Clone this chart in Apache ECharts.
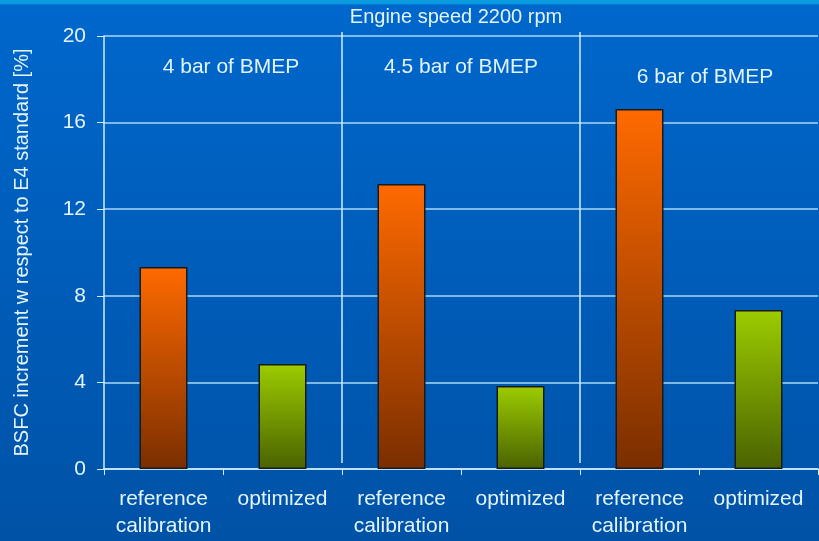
<!DOCTYPE html>
<html>
<head>
<meta charset="utf-8">
<script src="https://cdn.jsdelivr.net/npm/echarts@6/dist/echarts.min.js"></script>
<style>
html, body { margin: 0; padding: 0; }
#chart { width: 819px; height: 541px; }
</style>
</head>
<body>
<div id="chart"></div>
<script>
var categories = ['reference\ncalibration', 'optimized', 'reference\ncalibration', 'optimized', 'reference\ncalibration', 'optimized'];
var bsfcValues = [9.33, 4.85, 13.16, 3.83, 16.63, 7.34];
var groups = ['4 bar of BMEP', '4.5 bar of BMEP', '6 bar of BMEP'];
var yTicks = [0, 4, 8, 12, 16, 20];

var txt = '#e2f4ff';
var font = 'Liberation Sans, Arial, sans-serif';

function barColor(i) {
	// odd = optimized (green), even = reference (orange)
	if (i % 2 == 0) {
		return new echarts.graphic.LinearGradient(0, 0, 0, 1, [
			{ offset: 0, color: '#ff6a00' },
			{ offset: 1, color: '#7a2e00' }
		]);
	}
	return new echarts.graphic.LinearGradient(0, 0, 0, 1, [
		{ offset: 0, color: '#9ccc00' },
		{ offset: 1, color: '#4a6200' }
	]);
}

var barData = [];
for (var i = 0; i < bsfcValues.length; i++) {
	barData.push({
		value: bsfcValues[i],
		itemStyle: { color: barColor(i), borderColor: '#1a1a1a', borderWidth: 1.5 }
	});
}

var chart = echarts.init(document.getElementById('chart'));
chart.setOption({
	backgroundColor: new echarts.graphic.LinearGradient(0, 0, 0, 1, [
		{ offset: 0, color: '#0a9be0' },
		{ offset: 0.007, color: '#0a9be0' },
		{ offset: 0.009, color: '#0067cc' },
		{ offset: 1, color: '#0052a6' }
	]),
	animation: false,
	title: {
		text: 'Engine speed 2200 rpm',
		left: 451,
		textAlign: 'center',
		top: 2,
		textStyle: { color: txt, fontSize: 20, fontWeight: 'normal', fontFamily: font }
	},
	grid: [
		{ left: 104, right: 1, top: 36, bottom: 72 },
		{ left: 104, right: 1, top: 32, bottom: 78 }
	],
	xAxis: [{
		type: 'category',
		data: categories,
		gridIndex: 0,
		axisLine: { lineStyle: { color: '#cfeeff', width: 1.5 } },
		axisTick: { show: true, length: 6, lineStyle: { color: '#cfeeff' } },
		axisLabel: { color: txt, fontSize: 21, fontFamily: font, lineHeight: 27, margin: 17, interval: 0 }
	}, {
		type: 'category',
		data: groups,
		gridIndex: 1,
		position: 'top',
		axisLine: { show: false },
		axisTick: { show: false },
		axisLabel: {
			inside: true,
			margin: 25,
			color: txt,
			fontSize: 21,
			fontFamily: font,
			formatter: function(v, idx) {
				if (idx == 0) return '{a|' + v + '}';
				if (idx == 2) return '{c|' + v + '}';
				return v;
			},
			rich: {
				a: { color: txt, fontSize: 21, fontFamily: font, padding: [0, 0, 0, 16] },
				c: { color: txt, fontSize: 21, fontFamily: font, padding: [10, 0, 0, 12] }
			}
		},
		splitLine: { show: true, showMinLine: false, showMaxLine: false, lineStyle: { color: '#cfeeff', width: 1.5 } }
	}],
	yAxis: [{
		type: 'value',
		gridIndex: 0,
		min: yTicks[0],
		max: yTicks[yTicks.length - 1],
		interval: 4,
		name: 'BSFC increment w respect to E4 standard [%]',
		nameLocation: 'middle',
		nameGap: 72,
		nameTextStyle: { color: txt, fontSize: 20, fontFamily: font },
		axisLine: { show: true, lineStyle: { color: '#cfeeff', width: 1.5 } },
		axisTick: { show: true, length: 7, lineStyle: { color: '#cfeeff' } },
		axisLabel: { color: txt, fontSize: 21, fontFamily: font, margin: 18 },
		splitLine: { show: true, lineStyle: { color: '#a8d8f4', width: 1.5 } }
	}, {
		type: 'value',
		gridIndex: 1,
		show: false
	}],
	series: [{
		type: 'bar',
		xAxisIndex: 0,
		yAxisIndex: 0,
		barWidth: 48,
		data: barData
	}]
});
</script>
</body>
</html>
